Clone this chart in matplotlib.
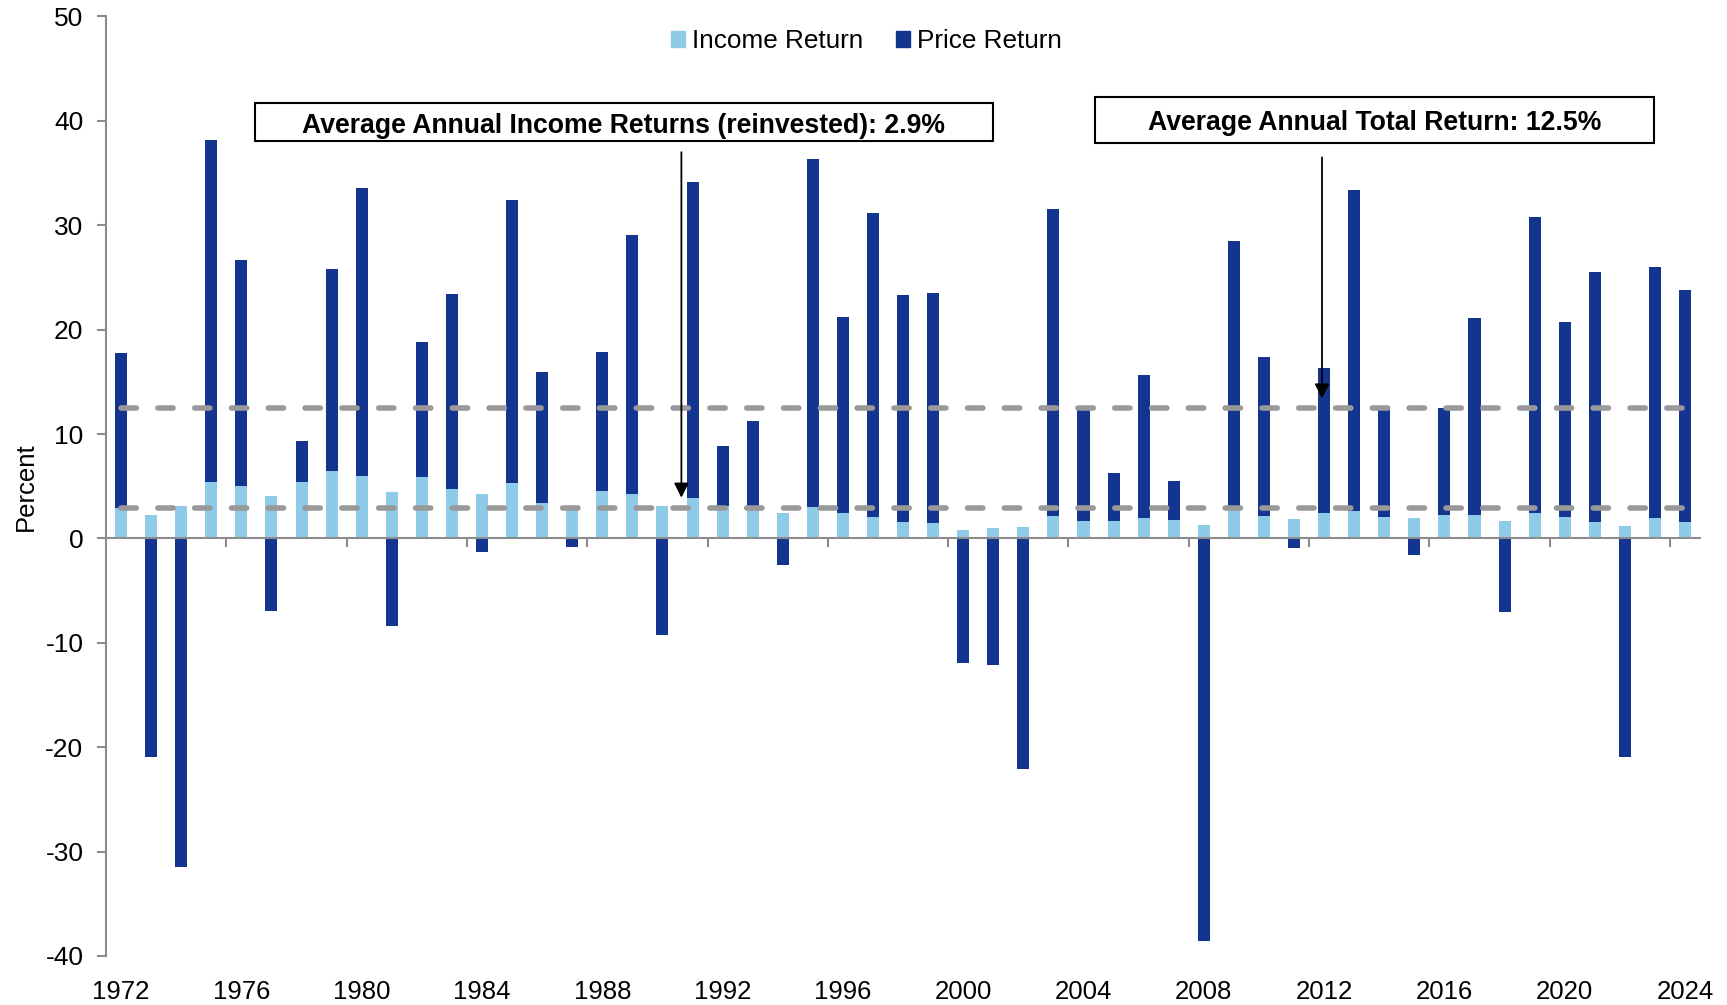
import numpy as np
import matplotlib.pyplot as plt
from matplotlib.patches import Patch, Rectangle

plt.rcParams['font.family'] = ['Liberation Sans', 'DejaVu Sans']
plt.rcParams['lines.scale_dashes'] = False
plt.rcParams['axes.unicode_minus'] = False

years = np.arange(1972, 2025)
income = [2.9, 2.2, 3.1, 5.4, 5.05, 4.1, 5.4, 6.5, 6.0, 4.4,
          5.9, 4.7, 4.3, 5.3, 3.4, 2.9, 4.5, 4.3, 3.1, 3.9,
          3.1, 2.7, 2.4, 3.0, 2.4, 2.05, 1.6, 1.5, 0.85, 1.0,
          1.1, 2.15, 1.7, 1.7, 2.0, 1.8, 1.3, 2.7, 2.1, 1.9,
          2.4, 2.6, 2.05, 1.95, 2.2, 2.2, 1.7, 2.45, 2.05, 1.6,
          1.2, 2.0, 1.6]
price = [14.85, -20.9, -31.5, 32.8, 21.65, -7.0, 3.9, 19.3, 27.6, -8.4,
         12.9, 18.7, -1.3, 27.1, 12.5, -0.8, 13.35, 24.8, -9.3, 30.2,
         5.8, 8.5, -2.5, 33.3, 18.8, 29.15, 21.7, 22.0, -11.9, -12.1,
         -22.1, 29.45, 10.7, 4.6, 13.7, 3.7, -38.6, 25.8, 15.3, -0.9,
         13.9, 30.8, 10.35, -1.6, 10.3, 18.9, -7.05, 28.35, 18.65, 23.9,
         -20.9, 24.0, 22.2]
avg_income = 2.9
avg_total = 12.5
label_years = years[::4]

light = '#8ECBE8'
dark = '#13348F'
grey = '#8C8C8C'

income = np.array(income)
price = np.array(price)
bottom = np.where(price > 0, income, 0)

fig = plt.figure(figsize=(17.27, 10.05), dpi=100)
ax = fig.add_axes([0.0614, 0.0488, 0.923, 0.9348])

ax.bar(years, income, width=0.4, color=light, zorder=2)
ax.bar(years, price, bottom=bottom, width=0.4, color=dark, zorder=2)

for v in (avg_total, avg_income):
    ax.plot([1972, 2024], [v, v], color='#999999', lw=4,
            dashes=(11, 15.5), dash_capstyle='round', zorder=3)

ax.set_xlim(1971.5, 2024.5)
ax.set_ylim(-40, 50)
ax.set_yticks(range(-40, 51, 10))

ax.spines['top'].set_visible(False)
ax.spines['right'].set_visible(False)
ax.spines['bottom'].set_position(('data', 0))
for s in ('left', 'bottom'):
    ax.spines[s].set_color(grey)
    ax.spines[s].set_linewidth(1.5)

ax.set_xticks(np.arange(1975.5, 2025, 4))
ax.tick_params(axis='x', labelbottom=False, direction='out', length=6.3,
               width=1.5, color=grey)
ax.tick_params(axis='y', direction='out', length=6.3, width=1.5, color=grey,
               labelsize=19, pad=10)

sec = ax.secondary_xaxis(0.0)
sec.set_xticks(label_years)
sec.set_xticklabels([str(y) for y in label_years])
sec.tick_params(length=0, labelsize=18.5, pad=17.5)
sec.spines['bottom'].set_visible(False)

ax.set_ylabel('Percent', fontsize=18.5)
ax.yaxis.set_label_coords(-0.043, 0.5)

handles = [Patch(color=light, label='Income Return'),
           Patch(color=dark, label='Price Return')]
ax.legend(handles=handles, loc='center', bbox_to_anchor=(0.477, 0.974),
          ncol=2, frameon=False, fontsize=18.8, handlelength=0.55,
          handleheight=0.55, handletextpad=0.25, columnspacing=1.25)

# annotation boxes
ax.add_patch(Rectangle((1976.45, 38.05), 24.55, 3.67, fill=False,
                       edgecolor='black', lw=1.5, zorder=4))
ax.text(1988.72, 39.5, 'Average Annual Income Returns (reinvested): 2.9%',
        ha='center', va='center', fontsize=19.2, fontweight='bold', zorder=5)
ax.add_patch(Rectangle((2004.37, 37.89), 18.61, 4.41, fill=False,
                       edgecolor='black', lw=1.5, zorder=4))
ax.text(2013.67, 39.75, 'Average Annual Total Return: 12.5%',
        ha='center', va='center', fontsize=19.2, fontweight='bold', zorder=5)

arrow = dict(arrowstyle='-|>', color='black', lw=1.3, mutation_scale=22,
             shrinkA=0, shrinkB=0)
ax.annotate('', xy=(1990.63, 3.9), xytext=(1990.63, 37.0),
            arrowprops=arrow, zorder=5)
ax.annotate('', xy=(2011.93, 13.4), xytext=(2011.93, 36.5),
            arrowprops=arrow, zorder=5)

fig.savefig('out.png', dpi=100)
